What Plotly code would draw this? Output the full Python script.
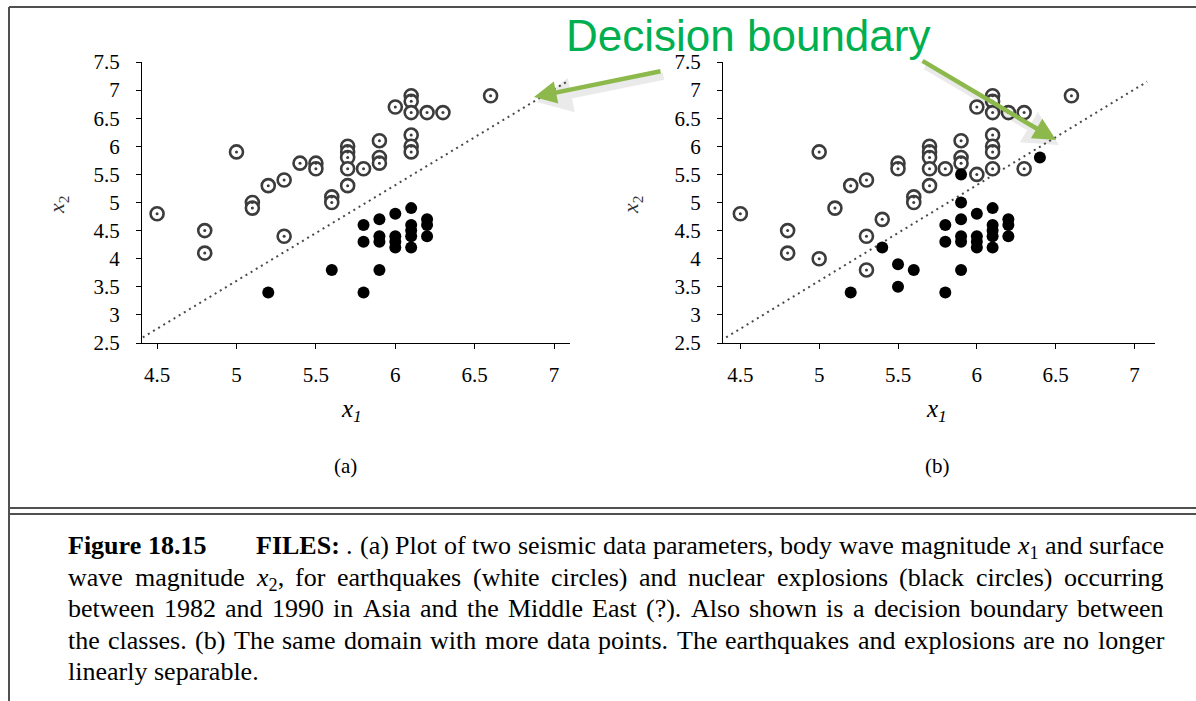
import plotly.graph_objects as go

# ---------------- data ----------------
# panel (a)
eq_a_x = [4.5, 4.8, 4.8, 5.0, 5.1, 5.1, 5.2, 5.3, 5.3, 5.4, 5.5, 5.5, 5.6, 5.6,
          5.7, 5.7, 5.7, 5.7, 5.7, 5.8, 5.9, 5.9, 5.9, 6.0, 6.1, 6.1, 6.1, 6.1,
          6.1, 6.1, 6.2, 6.3, 6.6]
eq_a_y = [4.8, 4.5, 4.1, 5.9, 5.0, 4.9, 5.3, 5.4, 4.4, 5.7, 5.7, 5.6, 5.1, 5.0,
          6.0, 5.9, 5.8, 5.6, 5.3, 5.6, 6.1, 5.8, 5.7, 6.7, 6.9, 6.8, 6.6, 6.2,
          6.0, 5.9, 6.6, 6.6, 6.9]
ex_a_x = [5.2, 5.6, 5.8, 5.8, 5.8, 5.9, 5.9, 5.9, 5.9, 6.0, 6.0, 6.0, 6.0,
          6.1, 6.1, 6.1, 6.1, 6.1, 6.2, 6.2, 6.2]
ex_a_y = [3.4, 3.8, 3.4, 4.6, 4.3, 4.7, 4.4, 4.3, 3.8, 4.8, 4.4, 4.3, 4.2,
          4.9, 4.6, 4.5, 4.4, 4.2, 4.7, 4.6, 4.4]

# panel (b)
eq_b_x = [4.5, 4.8, 4.8, 5.0, 5.0, 5.1, 5.2, 5.3, 5.3, 5.3, 5.4, 5.5, 5.5, 5.6,
          5.6, 5.7, 5.7, 5.7, 5.7, 5.7, 5.8, 5.9, 5.9, 5.9, 6.0, 6.0, 6.1, 6.1,
          6.1, 6.1, 6.1, 6.1, 6.1, 6.2, 6.3, 6.3, 6.6]
eq_b_y = [4.8, 4.5, 4.1, 5.9, 4.0, 4.9, 5.3, 5.4, 4.4, 3.8, 4.7, 5.7, 5.6, 5.1,
          5.0, 6.0, 5.9, 5.8, 5.6, 5.3, 5.6, 6.1, 5.8, 5.7, 6.7, 5.5, 6.9, 6.8,
          6.6, 6.2, 6.0, 5.9, 5.6, 6.6, 6.6, 5.6, 6.9]
ex_b_x = [5.2, 5.4, 5.5, 5.5, 5.6, 5.8, 5.8, 5.8, 5.9, 5.9, 5.9, 5.9, 5.9, 5.9,
          6.0, 6.0, 6.0, 6.0, 6.1, 6.1, 6.1, 6.1, 6.1, 6.2, 6.2, 6.2, 6.4]
ex_b_y = [3.4, 4.2, 3.9, 3.5, 3.8, 3.4, 4.6, 4.3, 5.5, 5.0, 4.7, 4.4, 4.3, 3.8,
          4.8, 4.4, 4.3, 4.2, 4.9, 4.6, 4.5, 4.4, 4.2, 4.7, 4.6, 4.4, 5.8]

# decision boundary (same in both panels)
boundary_x = [4.41, 7.08]
boundary_y = [2.6, 7.15]

x_ticks = [4.5, 5, 5.5, 6, 6.5, 7]
y_ticks = [2.5, 3, 3.5, 4, 4.5, 5, 5.5, 6, 6.5, 7, 7.5]
y_ticktext = ["2.5", "3", "3.5", "4", "4.5", "5", "5.5", "6", "6.5", "7", "7.5"]

# caption: each line is a list of words; "b:" prefix = bold, X1/X2 = math symbols
caption_lines = [
    ["b:Figure", "b:18.15", "GAP", "b:FILES:", ".", "(a)", "Plot", "of", "two", "seismic",
     "data", "parameters,", "body", "wave", "magnitude", "X1", "and", "surface"],
    ["wave", "magnitude", "X2,", "for", "earthquakes", "(white", "circles)", "and", "nuclear",
     "explosions", "(black", "circles)", "occurring"],
    ["between", "1982", "and", "1990", "in", "Asia", "and", "the", "Middle", "East", "(?).",
     "Also", "shown", "is", "a", "decision", "boundary", "between"],
    ["the", "classes.", "(b)", "The", "same", "domain", "with", "more", "data", "points.",
     "The", "earthquakes", "and", "explosions", "are", "no", "longer"],
    ["linearly", "separable."],
]
caption_justify = [True, True, True, True, False]

# ---------------- figure ----------------
W, H = 1196, 701
SERIF = "Liberation Serif, Times New Roman, serif"
RING = "#3c3c3c"

fig = go.Figure()

def add_panel(xa, ya, eqx, eqy, exx, exy):
    fig.add_trace(go.Scatter(x=boundary_x, y=boundary_y, mode="lines",
                             line=dict(color="#4a4a4a", width=2, dash="2px,4px"),
                             xaxis=xa, yaxis=ya, hoverinfo="skip"))
    fig.add_trace(go.Scatter(x=eqx, y=eqy, mode="markers",
                             marker=dict(symbol="circle", size=13, color="white",
                                         line=dict(color=RING, width=2.6)),
                             xaxis=xa, yaxis=ya))
    fig.add_trace(go.Scatter(x=eqx, y=eqy, mode="markers",
                             marker=dict(symbol="circle", size=3, color=RING,
                                         line=dict(width=0)),
                             xaxis=xa, yaxis=ya, hoverinfo="skip"))
    fig.add_trace(go.Scatter(x=exx, y=exy, mode="markers",
                             marker=dict(symbol="circle", size=12, color="black",
                                         line=dict(width=0)),
                             xaxis=xa, yaxis=ya))

add_panel("x", "y", eq_a_x, eq_a_y, ex_a_x, ex_a_y)
add_panel("x2", "y2", eq_b_x, eq_b_y, ex_b_x, ex_b_y)

def px(xp):
    return xp / W

def py(yp):
    return 1 - yp / H

y_dom = [py(343), py(62)]
axis_common = dict(showline=True, linecolor="black", linewidth=1.3, mirror=False,
                   ticks="outside", ticklen=5, tickwidth=1.3, tickcolor="black",
                   showgrid=False, zeroline=False, automargin=False,
                   tickfont=dict(family=SERIF, size=21, color="black"))

fig.update_layout(
    template="none",
    width=W, height=H, margin=dict(l=0, r=0, t=0, b=0, pad=0, autoexpand=False),
    paper_bgcolor="white", plot_bgcolor="white", showlegend=False,
    xaxis=dict(domain=[px(142), px(570)], range=[4.405, 7.10], anchor="y",
               tickvals=x_ticks, ticklabelstandoff=8, **axis_common),
    yaxis=dict(domain=y_dom, range=[2.5, 7.5], anchor="x",
               tickvals=y_ticks, ticktext=y_ticktext,
               ticklabelstandoff=12, **axis_common),
    xaxis2=dict(domain=[px(723), px(1155)], range=[4.39, 7.13], anchor="y2",
                tickvals=x_ticks, ticklabelstandoff=8, **axis_common),
    yaxis2=dict(domain=y_dom, range=[2.5, 7.5], anchor="x2",
                tickvals=y_ticks, ticktext=y_ticktext,
                ticklabelstandoff=12, **axis_common),
)

ann = []
# axis titles and panel labels
for cx, lab in [(346, "(a)"), (937, "(b)")]:
    ann.append(dict(x=px(cx), y=py(466), xref="paper", yref="paper", text=lab,
                    xanchor="center", yanchor="middle",
                    showarrow=False, font=dict(family=SERIF, size=21, color="black")))
for cx in [351, 936]:
    ann.append(dict(x=px(cx), y=py(410), xref="paper", yref="paper",
                    xanchor="center", yanchor="middle",
                    text="<i>x</i><sub><i>1</i></sub>", showarrow=False,
                    font=dict(family=SERIF, size=25, color="black")))
for cx in [58, 632]:
    ann.append(dict(x=px(cx), y=py(205), xref="paper", yref="paper",
                    xanchor="center", yanchor="middle",
                    text="<i>x</i><sub>2</sub>", showarrow=False, textangle=-90,
                    font=dict(family=SERIF, size=22, color="#333")))

# ---- caption with justified lines (Times metrics, per 1000 em) ----
TR = {" ": 250, "(": 333, ")": 333, ",": 250, ".": 250, "?": 444, ":": 278,
      "A": 722, "B": 667, "C": 667, "D": 722, "E": 611, "F": 556, "G": 722, "H": 722,
      "I": 333, "J": 389, "K": 722, "L": 611, "M": 889, "N": 722, "O": 722, "P": 556,
      "Q": 722, "R": 667, "S": 556, "T": 611, "U": 722, "V": 722, "W": 944, "X": 722,
      "Y": 722, "Z": 611, "a": 444, "b": 500, "c": 444, "d": 500, "e": 444, "f": 333,
      "g": 500, "h": 500, "i": 278, "j": 278, "k": 500, "l": 278, "m": 778, "n": 500,
      "o": 500, "p": 500, "q": 500, "r": 333, "s": 389, "t": 278, "u": 500, "v": 500,
      "w": 722, "x": 500, "y": 500, "z": 444}
TB = {" ": 250, ".": 250, ":": 333, "F": 611, "I": 389, "L": 667, "E": 667, "S": 556,
      "i": 278, "g": 500, "u": 556, "r": 444, "e": 444}

CAP_FS = 26
CAP_X0, CAP_X1 = 68, 1164
CAP_Y0, CAP_DY = 548, 31.5

def word_html_width(w):
    if w.startswith("b:"):
        t = w[2:]
        em = sum(TB.get(c, 500) for c in t)
        return "<b>%s</b>" % t, em / 1000 * CAP_FS
    if w.startswith("X1") or w.startswith("X2"):
        rest = w[2:]
        em = 444 + 350 + sum(TR.get(c, 500) for c in rest)
        return "<i>x</i><sub>%s</sub>%s" % (w[1], rest), em / 1000 * CAP_FS
    em = sum(TR.get(c, 500) for c in w)
    return w, em / 1000 * CAP_FS

for li, (words, just) in enumerate(zip(caption_lines, caption_justify)):
    items = [word_html_width(w) for w in words if w != "GAP"]
    gap_extra = 42 if "GAP" in words else 0
    gap_after = words.index("GAP") - 1 if "GAP" in words else -1
    n_gaps = len(items) - 1
    natural = sum(wd for _, wd in items) + gap_extra
    space = CAP_FS * 0.25
    if just and n_gaps > 0:
        space = (CAP_X1 - CAP_X0 - natural) / n_gaps
    xcur = CAP_X0
    yc = CAP_Y0 + li * CAP_DY
    for k, (html, wd) in enumerate(items):
        ann.append(dict(x=px(xcur), y=py(yc - 17), xref="paper", yref="paper",
                        xanchor="left", yanchor="top", text=html, showarrow=False,
                        borderpad=0, borderwidth=0,
                        font=dict(family=SERIF, size=CAP_FS, color="black")))
        xcur += wd + space
        if k == gap_after:
            xcur += gap_extra

# "Decision boundary" callout
ann.append(dict(x=px(748), y=py(35), xref="paper", yref="paper", text="Decision boundary",
                xanchor="center", yanchor="middle",
                showarrow=False, font=dict(family="Liberation Sans, Arial, sans-serif",
                                           size=44, color="#00B050")))
arrows = [((534, 97), (662, 71)), ((1056, 140), (921, 60))]
for (hx, hy), (tx, ty) in arrows:
    ann.append(dict(x=px(hx + 3), y=py(hy + 5), xref="paper", yref="paper", text="",
                    showarrow=True, ax=tx - hx, ay=ty - hy, axref="pixel", ayref="pixel",
                    arrowhead=2, arrowsize=1.0, arrowwidth=7,
                    arrowcolor="rgba(0,0,0,0.08)"))
    ann.append(dict(x=px(hx), y=py(hy), xref="paper", yref="paper", text="",
                    showarrow=True, ax=tx - hx, ay=ty - hy, axref="pixel", ayref="pixel",
                    arrowhead=2, arrowsize=1.0, arrowwidth=4.5,
                    arrowcolor="#8DB84B"))
fig.update_layout(annotations=ann)

# frame lines
line_col = "#505050"
shapes = [
    dict(type="line", xref="paper", yref="paper", x0=px(9), x1=1, y0=py(7), y1=py(7),
         line=dict(color=line_col, width=2)),
    dict(type="line", xref="paper", yref="paper", x0=px(9), x1=px(9), y0=py(7), y1=0,
         line=dict(color=line_col, width=2)),
    dict(type="line", xref="paper", yref="paper", x0=px(9), x1=1, y0=py(508), y1=py(508),
         line=dict(color=line_col, width=2)),
    dict(type="line", xref="paper", yref="paper", x0=px(9), x1=1, y0=py(514), y1=py(514),
         line=dict(color=line_col, width=2)),
]
fig.update_layout(shapes=shapes)

fig.write_html("out.html")
